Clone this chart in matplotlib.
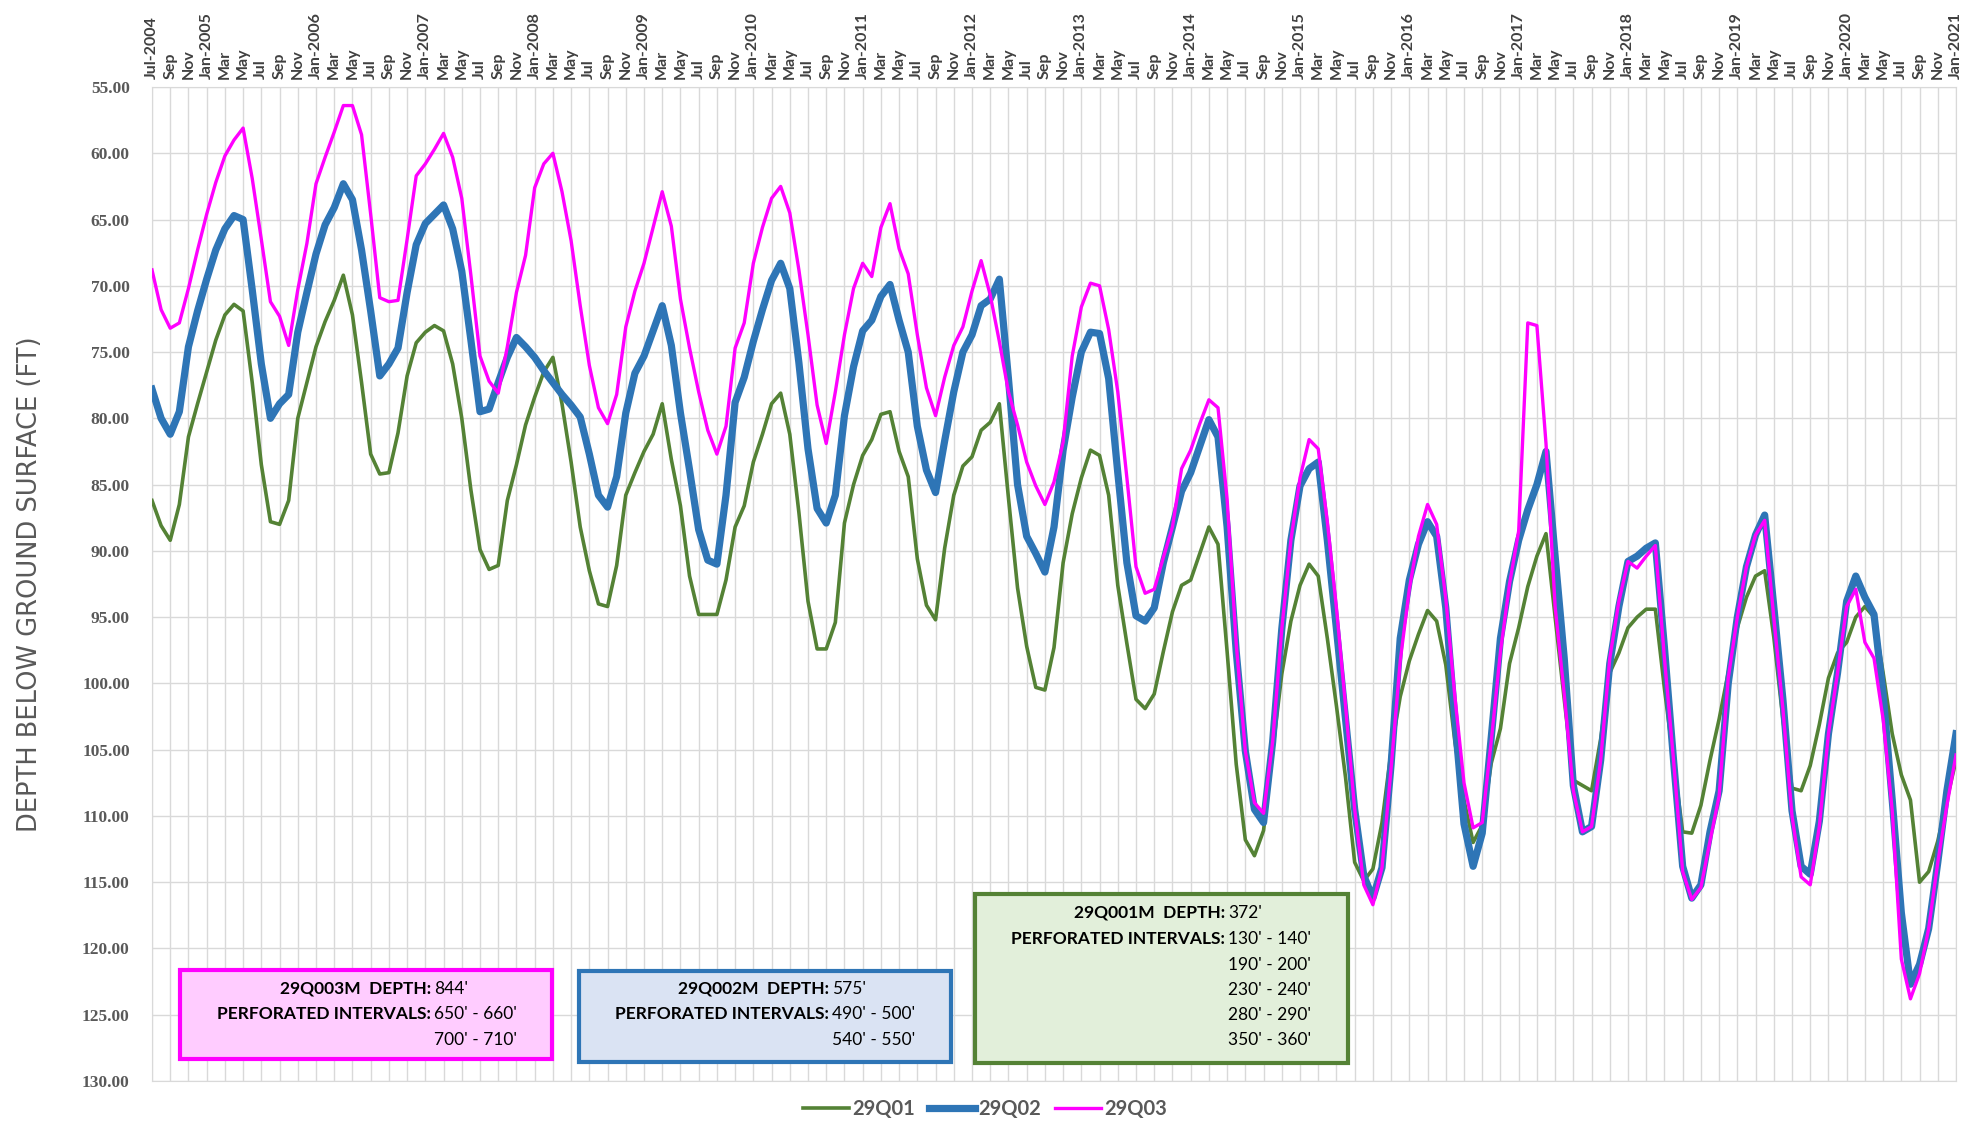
import numpy as np
import pandas as pd
import matplotlib
matplotlib.use("Agg")
import matplotlib.pyplot as plt
from matplotlib.patches import Rectangle

# monthly readings, Jul-2004 .. Jan-2021 (depth below ground surface, ft)
months = pd.date_range("2004-07-01", "2021-01-01", freq="MS")
tick_labels = [d.strftime("%b-%Y") if (d.month == 1 or i == 0) else d.strftime("%b")
               for i, d in enumerate(months)]

q01 = [86.2, 88.1, 89.2, 86.5, 81.4, 78.9, 76.5, 74.1, 72.2, 71.4, 71.9, 77.3,
       83.5, 87.8, 88.0, 86.2, 80.0, 77.3, 74.6, 72.7, 71.1, 69.2, 72.2, 77.3,
       82.7, 84.2, 84.1, 81.1, 76.8, 74.3, 73.5, 73.0, 73.4, 75.9, 80.0, 85.4,
       89.9, 91.4, 91.1, 86.2, 83.5, 80.5, 78.4, 76.5, 75.4, 78.9, 83.3, 88.2,
       91.5, 94.0, 94.2, 91.1, 85.8, 84.1, 82.5, 81.2, 78.9, 83.1, 86.6, 91.9,
       94.8, 94.8, 94.8, 92.2, 88.2, 86.6, 83.3, 81.2, 78.9, 78.1, 81.2, 87.1,
       93.8, 97.4, 97.4, 95.4, 87.9, 85.0, 82.8, 81.6, 79.7, 79.5, 82.5, 84.4,
       90.6, 94.1, 95.2, 89.8, 85.8, 83.6, 82.9, 80.9, 80.3, 78.9, 86.0, 92.8,
       97.2, 100.3, 100.5, 97.3, 90.9, 87.2, 84.5, 82.4, 82.8, 85.8, 92.6, 97.0,
       101.2, 101.9, 100.8, 97.6, 94.6, 92.6, 92.2, 90.2, 88.2, 89.5, 97.6, 106.1,
       111.8, 113.0, 111.1, 105.1, 99.3, 95.3, 92.6, 91.0, 91.9, 96.6, 101.7, 107.1,
       113.5, 114.9, 114.0, 110.5, 105.1, 101.0, 98.3, 96.3, 94.5, 95.3, 98.6, 104.4,
       108.8, 112.0, 110.7, 106.0, 103.4, 98.5, 95.8, 92.7, 90.4, 88.7, 95.0, 101.2,
       107.3, 107.7, 108.1, 104.2, 99.2, 97.7, 95.8, 95.0, 94.4, 94.4, 100.4, 105.8,
       111.2, 111.3, 109.2, 105.8, 102.7, 99.2, 95.8, 93.5, 91.9, 91.5, 96.5, 102.7,
       107.9, 108.1, 106.2, 103.1, 99.6, 97.7, 96.9, 95.0, 94.2, 95.0, 99.2, 103.8,
       106.9, 108.8, 115.0, 114.2, 111.9, 108.8, 105.8]

q02 = [77.8, 80.0, 81.2, 79.5, 74.6, 71.9, 69.5, 67.3, 65.7, 64.7, 65.0, 70.3,
       75.9, 80.0, 78.9, 78.2, 73.5, 70.5, 67.6, 65.4, 64.1, 62.3, 63.5, 67.3,
       71.9, 76.8, 75.9, 74.7, 70.5, 66.9, 65.3, 64.6, 63.9, 65.7, 68.9, 74.1,
       79.5, 79.3, 77.3, 75.4, 73.9, 74.6, 75.4, 76.4, 77.3, 78.2, 79.0, 79.9,
       82.7, 85.8, 86.7, 84.4, 79.6, 76.6, 75.3, 73.4, 71.5, 74.5, 79.6, 83.9,
       88.4, 90.7, 91.0, 85.8, 78.8, 76.9, 74.2, 71.8, 69.6, 68.3, 70.2, 75.8,
       82.3, 86.8, 87.9, 85.8, 79.8, 76.1, 73.4, 72.6, 70.8, 69.9, 72.6, 75.0,
       80.6, 83.9, 85.6, 81.7, 78.0, 75.0, 73.7, 71.5, 71.0, 69.5, 77.0, 85.0,
       88.9, 90.2, 91.6, 88.2, 82.4, 78.4, 75.0, 73.5, 73.6, 77.0, 84.1, 90.9,
       94.9, 95.3, 94.3, 90.9, 88.2, 85.5, 84.1, 82.1, 80.1, 81.4, 88.2, 97.6,
       105.1, 109.5, 110.5, 104.4, 95.9, 89.2, 85.1, 83.8, 83.3, 89.2, 95.9, 102.7,
       109.5, 114.5, 116.2, 113.9, 106.1, 96.6, 92.2, 89.5, 87.8, 88.9, 94.3, 102.7,
       110.6, 113.8, 111.3, 104.0, 96.6, 92.3, 89.2, 86.9, 85.0, 82.5, 90.4, 98.1,
       107.7, 111.2, 110.8, 105.8, 98.5, 94.2, 90.8, 90.4, 89.8, 89.4, 97.3, 105.8,
       113.8, 116.2, 115.2, 111.2, 108.1, 100.0, 95.0, 91.2, 88.8, 87.3, 94.2, 101.2,
       109.6, 113.8, 114.4, 110.4, 103.8, 99.2, 93.8, 91.9, 93.5, 94.8, 100.8, 108.8,
       117.3, 122.7, 121.2, 118.5, 113.5, 108.1, 103.8]

q03 = [68.8, 71.8, 73.2, 72.8, 70.2, 67.3, 64.6, 62.2, 60.2, 59.0, 58.1, 61.9,
       66.5, 71.2, 72.3, 74.5, 70.3, 66.8, 62.3, 60.3, 58.4, 56.4, 56.4, 58.6,
       64.6, 70.9, 71.2, 71.1, 66.5, 61.7, 60.8, 59.7, 58.5, 60.3, 63.4, 69.2,
       75.3, 77.2, 78.1, 74.6, 70.5, 67.7, 62.6, 60.8, 60.0, 62.9, 66.6, 71.5,
       76.0, 79.2, 80.4, 78.2, 73.1, 70.4, 68.3, 65.6, 62.9, 65.5, 71.0, 74.7,
       78.0, 80.9, 82.7, 80.6, 74.7, 72.8, 68.3, 65.6, 63.4, 62.5, 64.5, 68.8,
       73.7, 79.0, 81.9, 78.0, 73.7, 70.2, 68.3, 69.3, 65.6, 63.8, 67.2, 69.1,
       73.7, 77.7, 79.8, 76.9, 74.5, 73.1, 70.4, 68.1, 70.7, 74.2, 78.0, 80.5,
       83.3, 85.1, 86.5, 84.8, 81.8, 75.3, 71.6, 69.8, 70.0, 73.3, 78.0, 84.5,
       91.2, 93.2, 92.9, 90.5, 88.2, 83.8, 82.4, 80.4, 78.6, 79.2, 86.1, 97.0,
       105.1, 109.0, 109.8, 104.4, 95.9, 89.2, 84.5, 81.6, 82.3, 87.8, 94.3, 101.7,
       109.5, 115.2, 116.7, 113.9, 106.4, 98.3, 92.9, 88.9, 86.5, 88.0, 93.6, 101.0,
       107.5, 110.9, 110.5, 104.3, 97.6, 92.5, 88.5, 72.8, 73.0, 81.9, 94.2, 100.8,
       108.1, 111.2, 110.8, 105.8, 98.1, 93.8, 90.8, 91.3, 90.4, 89.6, 98.1, 105.8,
       114.2, 116.3, 115.4, 111.9, 108.5, 99.6, 95.0, 91.2, 88.8, 87.7, 95.0, 101.9,
       110.0, 114.6, 115.2, 110.8, 103.8, 99.2, 94.2, 92.9, 96.9, 98.1, 102.7, 109.6,
       120.8, 123.8, 121.9, 118.5, 113.5, 109.2, 105.4]

y_ticks = np.arange(55, 131, 5)

# well notes: (name line, depth, perforated intervals)
notes = [
    ("29Q003M  DEPTH:", "844'", ["650' - 660'", "700' - 710'"]),
    ("29Q002M  DEPTH:", "575'", ["490' - 500'", "540' - 550'"]),
    ("29Q001M  DEPTH:", "372'", ["130' - 140'", "190' - 200'", "230' - 240'",
                                  "280' - 290'", "350' - 360'"]),
]

W, H = 1977, 1133
GRAY = "#595959"
fig = plt.figure(figsize=(W / 100, H / 100), dpi=100)
ax = fig.add_axes([152 / W, 1 - 1081 / H, (1956 - 152) / W, (1081 - 87) / H])

x = np.arange(len(months))
ax.plot(x, q01, color="#548235", lw=2.6, label="29Q01", zorder=3)
ax.plot(x, q02, color="#2E75B6", lw=5.2, label="29Q02", zorder=4)
ax.plot(x, q03, color="#FF00FF", lw=2.4, label="29Q03", zorder=5)

ax.set_xlim(0, len(months) - 1)
ax.set_ylim(130, 55)
ax.set_yticks(y_ticks)
ax.set_yticklabels([f"{v:.2f}" for v in y_ticks], family="Liberation Serif",
                   fontweight="bold", fontsize=12.5, color=GRAY)
ax.xaxis.tick_top()
ax.set_xticks(x[::2])
ax.set_xticklabels(tick_labels[::2], rotation=90, family="Lato",
                   fontweight="bold", fontsize=11.5, color="#404040")
ax.tick_params(length=0, pad=6)
ax.tick_params(axis="y", pad=16)
ax.grid(True, color="#D9D9D9", lw=1)
ax.set_axisbelow(True)
for sp in ax.spines.values():
    sp.set_color("#D9D9D9")

fig.text(30 / W, 1 - 584 / H, "DEPTH BELOW GROUND SURFACE (FT)", rotation=90,
         ha="center", va="center", fontsize=18.5, color=GRAY,
         family=["Liberation Sans Narrow", "DejaVu Sans"])

leg = fig.legend(loc="lower center", bbox_to_anchor=(985 / W, -0.004), ncol=3,
                 frameon=False, handlelength=2.3, columnspacing=0.7, handletextpad=0.15,
                 prop={"family": "Lato", "weight": "bold", "size": 14.5}, labelcolor=GRAY)

# annotation boxes (pixel positions in the figure)
boxes = [
    dict(rect=(180, 970, 552, 1059), face="#FFCCFF", edge="#FF00FF", colon=431,
         rows=[989, 1014, 1040]),
    dict(rect=(579, 971, 951, 1062), face="#DAE3F3", edge="#2E75B6", colon=829,
         rows=[989, 1014, 1040]),
    dict(rect=(975, 894, 1348, 1063), face="#E2EFDA", edge="#548235", colon=1225,
         rows=[913, 939, 965, 990, 1015, 1040]),
]
for b, (name, depth, intervals) in zip(boxes, notes):
    x0, y0, x1, y1 = b["rect"]
    fig.patches.append(Rectangle((x0 / W, 1 - y1 / H), (x1 - x0) / W, (y1 - y0) / H,
                                 transform=fig.transFigure, facecolor=b["face"],
                                 edgecolor=b["edge"], lw=3, zorder=10))
    rows = [1 - r / H for r in b["rows"]]
    cx = b["colon"] / W
    tkw = dict(va="center", fontsize=12.5, family="Lato", color="black", zorder=11)
    fig.text(cx, rows[0], name, ha="right", fontweight="bold", **tkw)
    fig.text(cx + 3 / W, rows[0], depth, ha="left", **tkw)
    fig.text(cx, rows[1], "PERFORATED INTERVALS:", ha="right", fontweight="bold", **tkw)
    for r, iv in zip(rows[1:], intervals):
        fig.text(cx + 3 / W, r, iv, ha="left", **tkw)

fig.savefig("out.png", dpi=100)
